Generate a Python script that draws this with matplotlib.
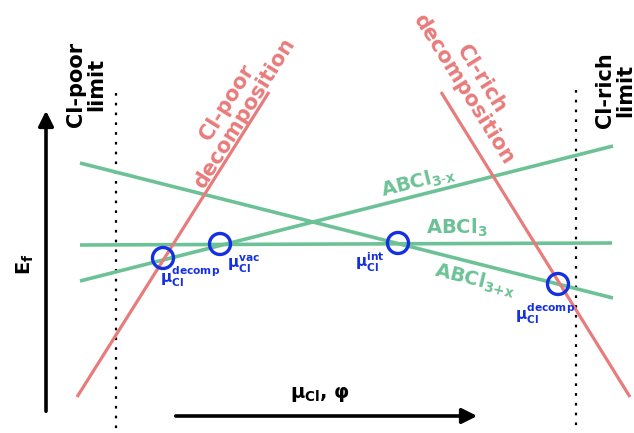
import matplotlib
matplotlib.use("Agg")
import matplotlib.pyplot as plt
from matplotlib.patches import Circle

plt.rcParams['font.family'] = ['DejaVu Sans']
plt.rcParams['mathtext.fontset'] = 'dejavusans'
plt.rcParams['mathtext.default'] = 'bf'

GREEN = '#6cc296'
RED = '#e87b7b'
BLUE = '#1530e0'

# Formation-energy lines, (x0, y0, x1, y1) in schematic units
phase_names = [r'ABCl$_{3\text{-}x}$', 'ABCl$_3$', 'ABCl$_{3{+}x}$']
phase_lines = [(80, 281, 613, 146), (80, 245, 612, 243), (80, 163, 613, 298)]
decomp_names = ['Cl-poor\ndecomposition', 'Cl-rich\ndecomposition']
decomp_lines = [(77, 397, 269, 92), (441, 92, 630, 397)]
limit_x = [116, 576]
limit_span = [(93, 430), (90, 430)]
limit_names = ['Cl-poor\nlimit', 'Cl-rich\nlimit']

# Transition points and their labels
point_xy = [(163, 258), (220, 244), (398, 243), (558, 284)]
point_labels = ['μ$_{Cl}^{decomp}$', 'μ$_{Cl}^{vac}$', 'μ$_{Cl}^{int}$', 'μ$_{Cl}^{decomp}$']
point_label_xy = [(190, 277), (244, 264), (370, 262), (545, 314)]

fig = plt.figure(figsize=(6.34, 4.33), dpi=100)
ax = fig.add_axes([0, 0, 1, 1])
ax.set_xlim(0, 634)
ax.set_ylim(433, 0)
ax.axis('off')

for (x0, y0, x1, y1) in phase_lines:
    ax.plot([x0, x1], [y0, y1], color=GREEN, lw=2.6, solid_capstyle='butt', zorder=2)
for (x0, y0, x1, y1) in decomp_lines:
    ax.plot([x0, x1], [y0, y1], color=RED, lw=2.3, solid_capstyle='butt', zorder=3)
for x, (ya, yb) in zip(limit_x, limit_span):
    ax.plot([x, x], [ya, yb], color='black', lw=1.6, ls=(0, (1.2, 3.2)), zorder=1)

for (x, y) in point_xy:
    ax.add_patch(Circle((x, y), 10.5, fill=False, ec=BLUE, lw=2.4, zorder=4))
for (x, y), lab in zip(point_label_xy, point_labels):
    ax.text(x, y, lab, color=BLUE, fontsize=11, fontweight='bold', ha='center', va='center')

# Phase labels along the lines
ax.text(418, 182, phase_names[0], color=GREEN, fontsize=14, fontweight='bold',
        rotation=14, ha='center', va='center', rotation_mode='anchor')
ax.text(457, 228, phase_names[1], color=GREEN, fontsize=14, fontweight='bold',
        ha='center', va='center')
ax.text(475, 280, phase_names[2], color=GREEN, fontsize=14, fontweight='bold',
        rotation=-14, ha='center', va='center', rotation_mode='anchor')

# Decomposition labels
ax.text(236, 108, decomp_names[0], color=RED, fontsize=15, fontweight='bold',
        rotation=58, ha='center', va='center', rotation_mode='anchor', linespacing=1.05)
ax.text(472, 84, decomp_names[1], color=RED, fontsize=15, fontweight='bold',
        rotation=-58, ha='center', va='center', rotation_mode='anchor', linespacing=1.05)

# Chemical-potential limits
ax.text(86, 84, limit_names[0], color='black', fontsize=15, fontweight='bold',
        rotation=90, ha='center', va='center', linespacing=1.0)
ax.text(615, 90, limit_names[1], color='black', fontsize=15, fontweight='bold',
        rotation=90, ha='center', va='center', linespacing=1.0)

# Axis arrows
ax.annotate('', xy=(46, 108), xytext=(46, 414),
            arrowprops=dict(arrowstyle='-|>,head_length=0.9,head_width=0.45', color='black', lw=2.6))
ax.annotate('', xy=(480, 416), xytext=(173, 416),
            arrowprops=dict(arrowstyle='-|>,head_length=0.9,head_width=0.45', color='black', lw=2.6))
ax.text(25, 264, 'E$_f$', color='black', fontsize=14, fontweight='bold',
        rotation=90, ha='center', va='center')
ax.text(320, 394, 'μ$_{Cl}$, φ', color='black', fontsize=14, fontweight='bold',
        ha='center', va='center')

fig.savefig('out.png', dpi=100)
